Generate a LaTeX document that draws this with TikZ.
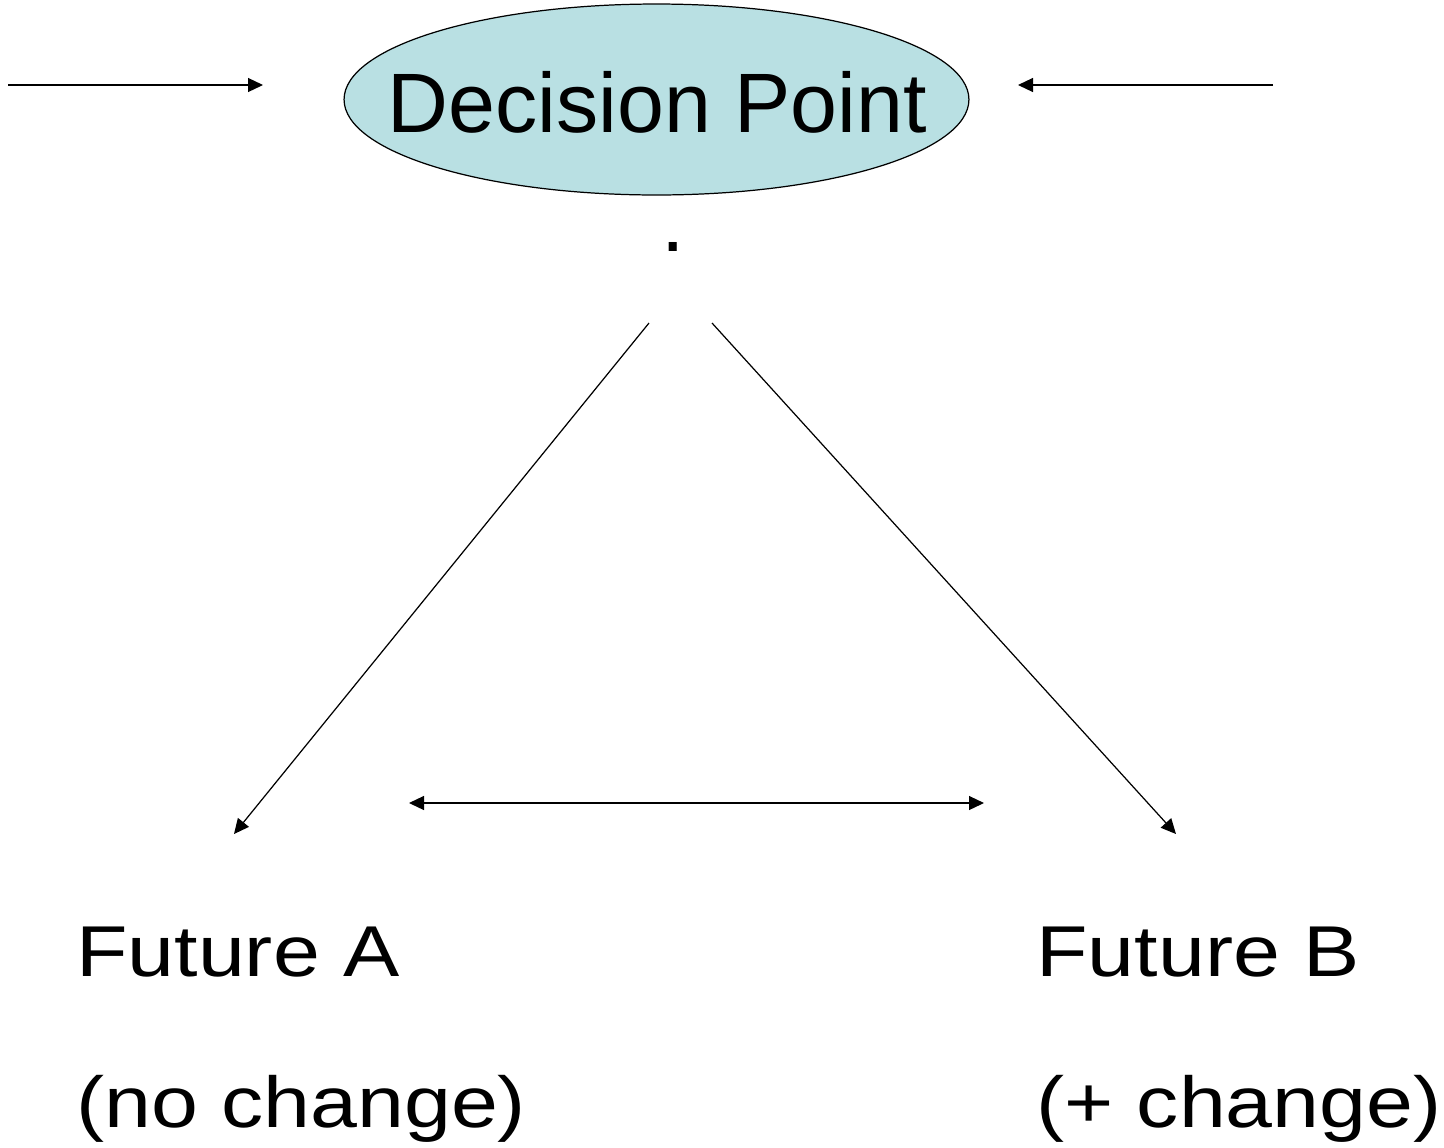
\documentclass[tikz,border=0pt]{standalone}
\usepackage{fontspec}
\setmainfont{Liberation Sans}
\usepackage{tikz}
\usetikzlibrary{arrows.meta,shapes,positioning}
\definecolor{dplightblue}{RGB}{185,224,227}
\tikzstyle{arrow} = [line width=0.7pt,-{Triangle[length=0.3cm,width=0.28cm]}]
\tikzstyle{twoway} = [line width=0.7pt,{Triangle[length=0.3cm,width=0.28cm]}-{Triangle[length=0.3cm,width=0.28cm]}]
\tikzstyle{future} = [inner sep=0pt, anchor=base west, font=\fontsize{41}{49}\selectfont]

\begin{document}
\begin{tikzpicture}[x=0.02cm, y=-0.02cm]
\useasboundingbox (0,0) rectangle (1444,1147);
% Decision ellipse
\node[ellipse, draw, line width=0.7pt, fill=dplightblue, minimum width=12.5cm, minimum height=3.82cm,
  inner sep=0pt] (dp) at (656.5,99.5) {};
\node[inner sep=0pt, anchor=base, font=\fontsize{48}{58}\selectfont] (dptext) at (657.5,132) {Decision Point};
\node[inner sep=0pt, anchor=base, font=\fontsize{48}{58}\selectfont] (dot) at (673.5,251) {.};

% Incoming arrows
\coordinate (lin) at (8,85);
\coordinate (lend) at (263,85);
\coordinate (rin) at (1273,85);
\coordinate (rend) at (1018,85);
\draw[arrow] (lin) -- (lend);
\draw[arrow] (rin) -- (rend);

% The two futures
\node[future] (fa) at (76,976) {\scalebox{1.17}[1]{Future A}};
\node[future] (fanote) at (76,1127) {\scalebox{1.17}[1]{(no change)}};
\node[future] (fb) at (1036,976) {\scalebox{1.17}[1]{Future B}};
\node[future] (fbnote) at (1036,1127) {\scalebox{1.17}[1]{(+ change)}};

% Branches
\coordinate (ltop) at (649,323);
\coordinate (lbot) at (234,834);
\coordinate (rtop) at (712,323);
\coordinate (rbot) at (1176,834);
\coordinate (mleft) at (409,803);
\coordinate (mright) at (984,803);
\draw[arrow] (ltop) -- (lbot);
\draw[arrow] (rtop) -- (rbot);
\draw[twoway] (mleft) -- (mright);
\end{tikzpicture}
\end{document}
